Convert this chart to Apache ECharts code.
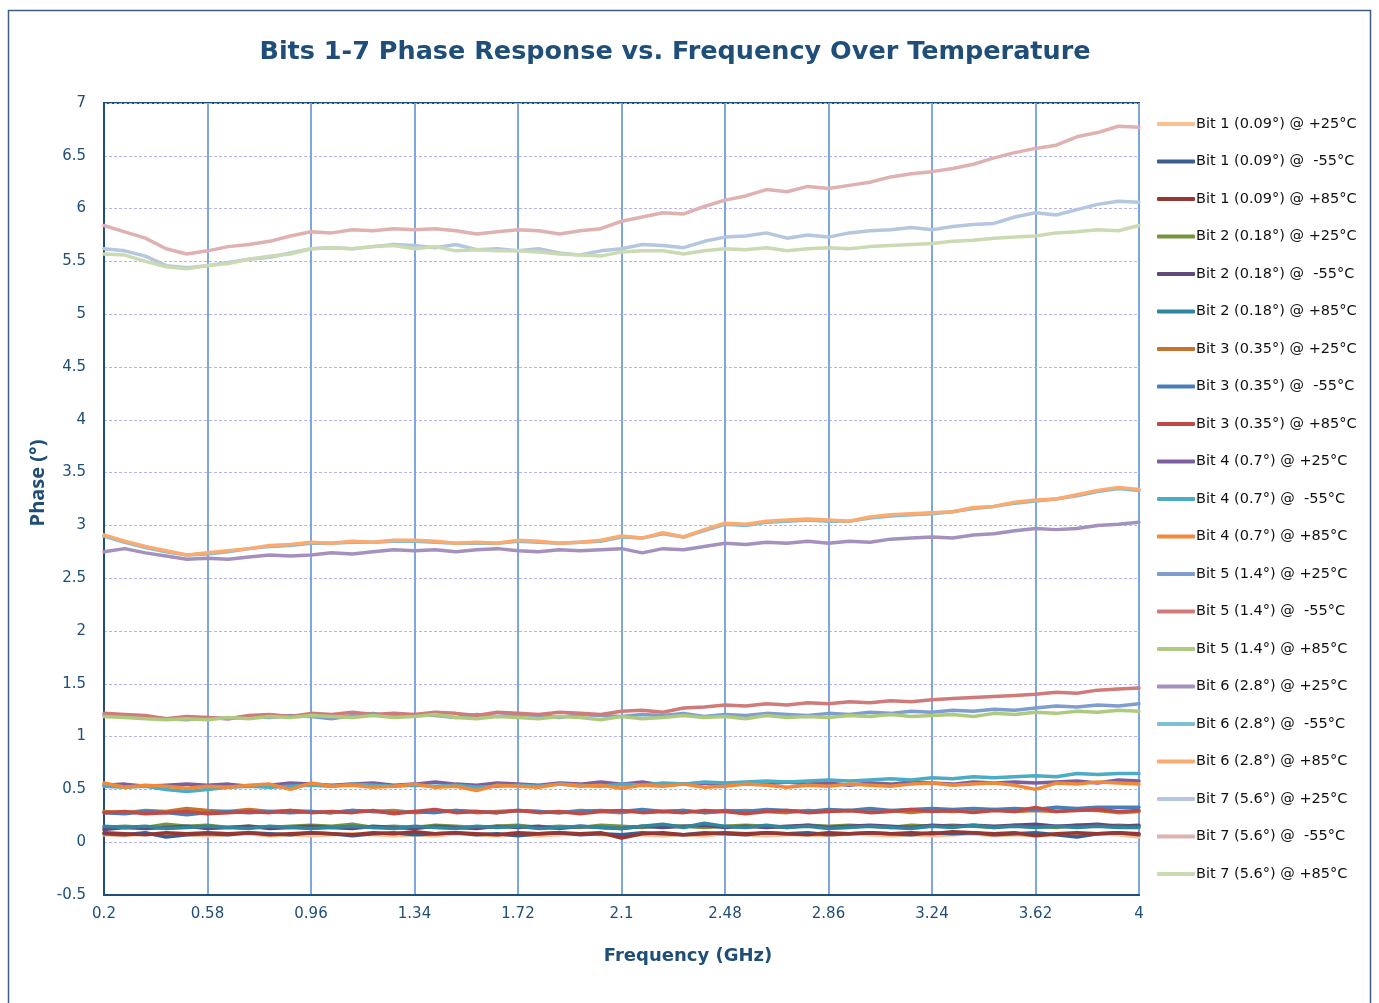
<!DOCTYPE html>
<html>
<head>
<meta charset="utf-8">
<script src="https://cdn.jsdelivr.net/npm/echarts@6/dist/echarts.min.js"></script>
<style>
html,body{margin:0;padding:0;background:#fff;}
#chart{width:1379px;height:1003px;}
</style>
</head>
<body>
<div id="chart"></div>
<script>
var freq = [0.2, 0.276, 0.352, 0.428, 0.504, 0.58, 0.656, 0.732, 0.808, 0.884,
  0.96, 1.036, 1.112, 1.188, 1.264, 1.34, 1.416, 1.492, 1.568, 1.644,
  1.72, 1.796, 1.872, 1.948, 2.024, 2.1, 2.176, 2.252, 2.328, 2.404,
  2.48, 2.556, 2.632, 2.708, 2.784, 2.86, 2.936, 3.012, 3.088, 3.164,
  3.24, 3.316, 3.392, 3.468, 3.544, 3.62, 3.696, 3.772, 3.848, 3.924,
  4];

var bit1_25 = [0.07,0.06,0.08,0.06,0.07,0.06,0.07,0.08,0.06,0.07,
  0.06,0.07,0.08,0.07,0.06,0.07,0.06,0.08,0.07,0.06,
  0.07,0.06,0.07,0.08,0.07,0.06,0.07,0.06,0.07,0.06,
  0.08,0.07,0.06,0.07,0.07,0.06,0.08,0.07,0.06,0.07,
  0.06,0.07,0.08,0.06,0.07,0.06,0.07,0.06,0.08,0.07,
  0.05];
var bit1_m55 = [0.08,0.07,0.09,0.05,0.07,0.08,0.07,0.09,0.08,0.07,
  0.09,0.08,0.06,0.08,0.09,0.07,0.08,0.09,0.07,0.08,
  0.06,0.08,0.09,0.07,0.08,0.07,0.09,0.08,0.07,0.09,
  0.08,0.07,0.09,0.08,0.09,0.07,0.08,0.09,0.08,0.07,
  0.09,0.08,0.09,0.07,0.08,0.09,0.07,0.05,0.08,0.09,
  0.07];
var bit1_85 = [0.09,0.08,0.07,0.09,0.08,0.09,0.08,0.09,0.07,0.08,
  0.09,0.08,0.07,0.09,0.08,0.10,0.08,0.09,0.08,0.07,
  0.09,0.08,0.09,0.08,0.09,0.04,0.08,0.09,0.07,0.08,
  0.09,0.08,0.09,0.08,0.07,0.09,0.08,0.09,0.08,0.09,
  0.08,0.10,0.09,0.08,0.09,0.06,0.08,0.09,0.08,0.09,
  0.08];
var bit2_25 = [0.14,0.15,0.14,0.17,0.15,0.16,0.14,0.15,0.14,0.15,
  0.16,0.15,0.17,0.14,0.15,0.14,0.16,0.15,0.14,0.15,
  0.16,0.14,0.15,0.14,0.16,0.15,0.14,0.16,0.15,0.14,
  0.15,0.16,0.15,0.14,0.16,0.15,0.16,0.15,0.14,0.16,
  0.15,0.16,0.15,0.14,0.16,0.15,0.14,0.16,0.15,0.16,
  0.15];
var bit2_m55 = [0.12,0.14,0.13,0.14,0.15,0.13,0.14,0.15,0.13,0.14,
  0.15,0.14,0.13,0.15,0.14,0.13,0.15,0.14,0.13,0.15,
  0.14,0.15,0.13,0.15,0.14,0.13,0.15,0.14,0.15,0.16,
  0.14,0.15,0.14,0.15,0.16,0.14,0.15,0.16,0.15,0.14,
  0.16,0.15,0.16,0.15,0.16,0.17,0.15,0.16,0.17,0.15,
  0.16];
var bit2_85 = [0.15,0.14,0.15,0.13,0.14,0.15,0.14,0.13,0.15,0.14,
  0.13,0.14,0.15,0.14,0.13,0.15,0.14,0.13,0.15,0.14,
  0.15,0.13,0.14,0.15,0.14,0.13,0.15,0.17,0.14,0.18,
  0.15,0.14,0.16,0.14,0.15,0.13,0.14,0.15,0.14,0.13,
  0.15,0.14,0.16,0.14,0.15,0.14,0.15,0.14,0.15,0.14,
  0.14];
var bit3_25 = [0.29,0.28,0.30,0.29,0.32,0.30,0.29,0.31,0.29,0.30,
  0.29,0.28,0.30,0.29,0.30,0.28,0.29,0.30,0.28,0.29,
  0.30,0.29,0.28,0.30,0.29,0.28,0.30,0.29,0.30,0.28,
  0.29,0.30,0.29,0.28,0.30,0.29,0.30,0.29,0.30,0.28,
  0.30,0.29,0.30,0.31,0.29,0.30,0.29,0.31,0.30,0.28,
  0.29];
var bit3_m55 = [0.28,0.27,0.29,0.28,0.26,0.28,0.29,0.28,0.29,0.28,
  0.29,0.28,0.30,0.29,0.28,0.29,0.28,0.30,0.29,0.28,
  0.30,0.29,0.28,0.29,0.30,0.29,0.31,0.29,0.30,0.28,
  0.30,0.29,0.31,0.30,0.29,0.31,0.30,0.32,0.30,0.31,
  0.32,0.31,0.32,0.31,0.32,0.31,0.33,0.32,0.33,0.33,
  0.33];
var bit3_85 = [0.28,0.29,0.27,0.28,0.29,0.27,0.28,0.29,0.28,0.30,
  0.28,0.29,0.28,0.30,0.27,0.29,0.31,0.28,0.29,0.28,
  0.30,0.28,0.29,0.27,0.29,0.30,0.28,0.29,0.28,0.30,
  0.29,0.27,0.29,0.30,0.28,0.29,0.30,0.28,0.29,0.31,
  0.29,0.30,0.28,0.30,0.29,0.33,0.29,0.30,0.31,0.29,
  0.30];
var bit4_25 = [0.54,0.55,0.53,0.54,0.55,0.54,0.55,0.53,0.54,0.56,
  0.55,0.54,0.55,0.56,0.54,0.55,0.57,0.55,0.54,0.56,
  0.55,0.54,0.56,0.55,0.57,0.55,0.57,0.54,0.55,0.56,
  0.54,0.56,0.55,0.57,0.55,0.56,0.54,0.56,0.55,0.57,
  0.56,0.55,0.57,0.56,0.57,0.56,0.57,0.58,0.56,0.59,
  0.58];
var bit4_m55 = [0.53,0.52,0.53,0.50,0.48,0.50,0.52,0.53,0.52,0.53,
  0.54,0.53,0.55,0.54,0.53,0.54,0.53,0.54,0.52,0.53,
  0.54,0.53,0.55,0.54,0.53,0.55,0.54,0.56,0.55,0.57,
  0.56,0.57,0.58,0.57,0.58,0.59,0.58,0.59,0.60,0.59,
  0.61,0.60,0.62,0.61,0.62,0.63,0.62,0.65,0.64,0.65,
  0.65];
var bit4_85 = [0.56,0.52,0.54,0.53,0.51,0.53,0.52,0.54,0.55,0.50,
  0.56,0.53,0.54,0.52,0.53,0.55,0.52,0.53,0.49,0.54,
  0.53,0.52,0.55,0.53,0.54,0.51,0.54,0.53,0.55,0.52,
  0.53,0.55,0.54,0.52,0.54,0.53,0.55,0.54,0.53,0.55,
  0.56,0.54,0.55,0.56,0.54,0.50,0.56,0.55,0.57,0.56,
  0.55];
var bit5_25 = [1.20,1.19,1.18,1.17,1.16,1.18,1.17,1.19,1.18,1.20,
  1.19,1.17,1.20,1.22,1.19,1.21,1.20,1.18,1.21,1.19,
  1.21,1.20,1.18,1.21,1.20,1.19,1.21,1.20,1.22,1.19,
  1.21,1.20,1.22,1.21,1.20,1.22,1.21,1.23,1.22,1.24,
  1.23,1.25,1.24,1.26,1.25,1.27,1.29,1.28,1.30,1.29,
  1.31];
var bit5_m55 = [1.22,1.21,1.20,1.17,1.19,1.18,1.17,1.20,1.21,1.19,
  1.22,1.21,1.23,1.21,1.22,1.21,1.23,1.22,1.20,1.23,
  1.22,1.21,1.23,1.22,1.21,1.24,1.25,1.23,1.27,1.28,
  1.30,1.29,1.31,1.30,1.32,1.31,1.33,1.32,1.34,1.33,
  1.35,1.36,1.37,1.38,1.39,1.40,1.42,1.41,1.44,1.45,
  1.46];
var bit5_85 = [1.19,1.18,1.17,1.16,1.17,1.16,1.18,1.17,1.19,1.18,
  1.20,1.19,1.18,1.20,1.18,1.19,1.21,1.18,1.17,1.19,
  1.18,1.17,1.19,1.18,1.16,1.19,1.17,1.18,1.20,1.18,
  1.19,1.17,1.20,1.18,1.19,1.18,1.20,1.19,1.21,1.19,
  1.20,1.21,1.19,1.22,1.21,1.23,1.22,1.24,1.23,1.25,
  1.24];
var bit6_25 = [2.75,2.78,2.74,2.71,2.68,2.69,2.68,2.70,2.72,2.71,
  2.72,2.74,2.73,2.75,2.77,2.76,2.77,2.75,2.77,2.78,
  2.76,2.75,2.77,2.76,2.77,2.78,2.74,2.78,2.77,2.80,
  2.83,2.82,2.84,2.83,2.85,2.83,2.85,2.84,2.87,2.88,
  2.89,2.88,2.91,2.92,2.95,2.97,2.96,2.97,3.00,3.01,
  3.03];
var bit6_m55 = [2.90,2.84,2.79,2.75,2.72,2.73,2.75,2.78,2.80,2.81,
  2.83,2.83,2.84,2.84,2.85,2.85,2.84,2.83,2.83,2.83,
  2.85,2.84,2.83,2.84,2.85,2.89,2.88,2.92,2.89,2.95,
  3.01,3.00,3.03,3.04,3.05,3.04,3.04,3.07,3.09,3.10,
  3.11,3.13,3.16,3.18,3.21,3.23,3.25,3.28,3.32,3.35,
  3.33];
var bit6_85 = [2.91,2.85,2.80,2.76,2.72,2.74,2.76,2.78,2.81,2.82,
  2.84,2.83,2.85,2.84,2.86,2.86,2.85,2.83,2.84,2.83,
  2.86,2.85,2.83,2.84,2.86,2.90,2.88,2.93,2.89,2.96,
  3.02,3.01,3.04,3.05,3.06,3.05,3.04,3.08,3.10,3.11,
  3.12,3.13,3.17,3.18,3.22,3.24,3.25,3.29,3.33,3.36,
  3.34];
var bit7_25 = [5.62,5.60,5.55,5.46,5.44,5.46,5.49,5.52,5.54,5.58,
  5.62,5.63,5.62,5.64,5.66,5.65,5.63,5.66,5.61,5.62,
  5.60,5.62,5.58,5.56,5.60,5.62,5.66,5.65,5.63,5.69,
  5.73,5.74,5.77,5.72,5.75,5.73,5.77,5.79,5.80,5.82,
  5.80,5.83,5.85,5.86,5.92,5.96,5.94,5.99,6.04,6.07,
  6.06];
var bit7_m55 = [5.84,5.78,5.72,5.62,5.57,5.60,5.64,5.66,5.69,5.74,
  5.78,5.77,5.80,5.79,5.81,5.80,5.81,5.79,5.76,5.78,
  5.80,5.79,5.76,5.79,5.81,5.88,5.92,5.96,5.95,6.02,
  6.08,6.12,6.18,6.16,6.21,6.19,6.22,6.25,6.30,6.33,
  6.35,6.38,6.42,6.48,6.53,6.57,6.60,6.68,6.72,6.78,
  6.77];
var bit7_85 = [5.57,5.56,5.50,5.45,5.43,5.46,5.48,5.52,5.55,5.57,
  5.62,5.63,5.62,5.64,5.65,5.62,5.64,5.60,5.61,5.60,
  5.60,5.59,5.57,5.56,5.55,5.59,5.60,5.60,5.57,5.60,
  5.62,5.61,5.63,5.60,5.62,5.63,5.62,5.64,5.65,5.66,
  5.67,5.69,5.70,5.72,5.73,5.74,5.77,5.78,5.80,5.79,
  5.84];

var seriesNames = [
  'Bit 1 (0.09°) @ +25°C', 'Bit 1 (0.09°) @  -55°C', 'Bit 1 (0.09°) @ +85°C',
  'Bit 2 (0.18°) @ +25°C', 'Bit 2 (0.18°) @  -55°C', 'Bit 2 (0.18°) @ +85°C',
  'Bit 3 (0.35°) @ +25°C', 'Bit 3 (0.35°) @  -55°C', 'Bit 3 (0.35°) @ +85°C',
  'Bit 4 (0.7°) @ +25°C', 'Bit 4 (0.7°) @  -55°C', 'Bit 4 (0.7°) @ +85°C',
  'Bit 5 (1.4°) @ +25°C', 'Bit 5 (1.4°) @  -55°C', 'Bit 5 (1.4°) @ +85°C',
  'Bit 6 (2.8°) @ +25°C', 'Bit 6 (2.8°) @  -55°C', 'Bit 6 (2.8°) @ +85°C',
  'Bit 7 (5.6°) @ +25°C', 'Bit 7 (5.6°) @  -55°C', 'Bit 7 (5.6°) @ +85°C'
];
var seriesValues = [
  bit1_25, bit1_m55, bit1_85, bit2_25, bit2_m55, bit2_85, bit3_25, bit3_m55, bit3_85,
  bit4_25, bit4_m55, bit4_85, bit5_25, bit5_m55, bit5_85, bit6_25, bit6_m55, bit6_85,
  bit7_25, bit7_m55, bit7_85
];
var seriesColors = [
  '#FAC090', '#3A5F8F', '#953735',
  '#77933C', '#604A7B', '#31859C',
  '#C5732F', '#4A7EBB', '#BE4B48',
  '#7D5FA0', '#4BACC6', '#F08A3A',
  '#7F9ECF', '#CF7B79', '#AECA7E',
  '#A491BE', '#7EBFD3', '#F9AB71',
  '#B5C6DF', '#DFB1B0', '#CADAB3'
];

var titleText = 'Bits 1-7 Phase Response vs. Frequency Over Temperature';
var xName = 'Frequency (GHz)';
var yName = 'Phase (°)';
var axisBlue = '#1F4E79';

var chart = echarts.init(document.getElementById('chart'), null, {renderer: 'canvas'});

var series = seriesNames.map(function (n, i) {
  return {
    name: n,
    type: 'line',
    data: seriesValues[i],
    showSymbol: false,
    symbol: 'none',
    smooth: false,
    lineStyle: {width: 3.5, color: seriesColors[i], cap: 'round', join: 'round'},
    itemStyle: {color: seriesColors[i]},
    emphasis: {disabled: true}
  };
});

chart.setOption({
  animation: false,
  backgroundColor: '#ffffff',
  graphic: [
    {type: 'rect', shape: {x: 8.5, y: 10.5, width: 1362, height: 1010},
     style: {fill: 'none', stroke: '#3E5E85', lineWidth: 1.5}, silent: true, z: -1},
    {type: 'text', x: 675, y: 52, style: {text: titleText, fill: axisBlue,
      font: 'bold 25.5px "DejaVu Sans"', textAlign: 'center', textVerticalAlign: 'middle'}},
    {type: 'text', x: 688, y: 956, style: {text: xName, fill: axisBlue,
      font: 'bold 18px "DejaVu Sans"', textAlign: 'center', textVerticalAlign: 'middle'}},
    {type: 'text', x: 38, y: 483, rotation: Math.PI / 2, style: {text: yName, fill: axisBlue,
      font: 'bold 20px "Open Sans"', textAlign: 'center', textVerticalAlign: 'middle'}}
  ],
  grid: {
    left: 104, right: 240, top: 103, bottom: 108,
    show: true, borderColor: axisBlue, borderWidth: 2, backgroundColor: '#fff'
  },
  legend: {
    orient: 'vertical',
    left: 1152, top: 111,
    icon: 'roundRect',
    itemWidth: 38, itemHeight: 4,
    itemGap: 21.5,
    data: seriesNames,
    textStyle: {fontFamily: 'DejaVu Sans', fontSize: 14.5, color: '#111', lineHeight: 16, padding: [0, 0, 0, -4]},
    selectedMode: false
  },
  xAxis: {
    type: 'category',
    data: freq.map(String),
    boundaryGap: false,
    axisLine: {show: true, onZero: false, lineStyle: {color: axisBlue, width: 2}},
    axisTick: {show: false},
    axisLabel: {interval: 4, color: axisBlue, fontFamily: 'DejaVu Sans', fontSize: 15, margin: 12},
    splitLine: {show: true, interval: 4, lineStyle: {color: '#7FA7DF', width: 2}}
  },
  yAxis: {
    type: 'value',
    min: -0.5, max: 7, interval: 0.5,
    axisLine: {show: true, lineStyle: {color: axisBlue, width: 2}},
    axisTick: {show: false},
    axisLabel: {color: axisBlue, fontFamily: 'DejaVu Sans', fontSize: 15, margin: 18},
    splitLine: {show: true, lineStyle: {color: '#B4B4F2', width: 1, type: [3, 2]}}
  },
  series: series
});
</script>
</body>
</html>
